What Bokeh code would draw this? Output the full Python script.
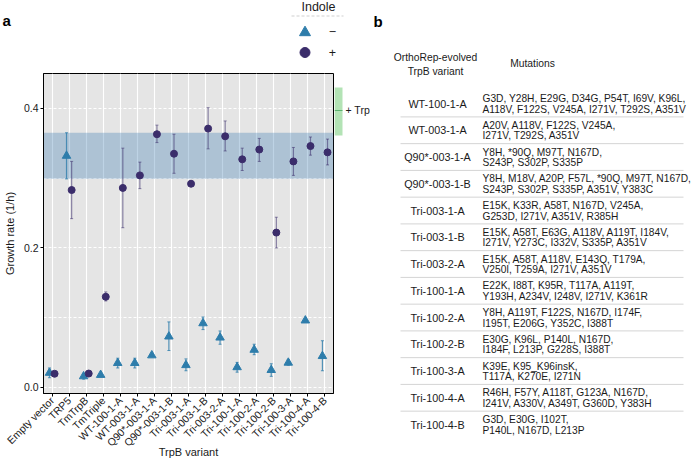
from bokeh.plotting import figure
from bokeh.layouts import row, column
from bokeh.models import Range1d, FactorRange, FixedTicker, ColumnDataSource, BoxAnnotation, NumeralTickFormatter
from bokeh.transform import dodge
from bokeh.core.properties import value
from bokeh.embed import file_html
from bokeh.resources import INLINE

FONT = "Liberation Sans"

# ---------------- data (panel a) ----------------
variants = ["Empty vector", "TRP5", "TmTrpB", "TmTriple", "WT-100-1-A", "WT-003-1-A",
            "Q90*-003-1-A", "Q90*-003-1-B", "Tri-003-1-A", "Tri-003-1-B", "Tri-003-2-A",
            "Tri-100-1-A", "Tri-100-2-A", "Tri-100-2-B", "Tri-100-3-A", "Tri-100-4-A", "Tri-100-4-B"]

minus_mean = [0.021, 0.332, 0.016, 0.018, 0.035, 0.035, 0.046, 0.073, 0.032, 0.092, 0.0715,
              0.029, 0.054, 0.025, 0.0355, 0.096, 0.045]
minus_lo = [0.014, 0.299, 0.012, 0.016, 0.028, 0.028, 0.044, 0.053, 0.024, 0.083, 0.062,
            0.022, 0.047, 0.016, 0.032, 0.094, 0.024]
minus_hi = [0.028, 0.365, 0.020, 0.020, 0.042, 0.042, 0.047, 0.094, 0.041, 0.101, 0.081,
            0.036, 0.062, 0.034, 0.040, 0.098, 0.067]

plus_mean = [0.0197, 0.283, 0.020, 0.130, 0.286, 0.304, 0.363, 0.335, 0.292, 0.371, 0.360,
             0.327, 0.341, 0.222, 0.324, 0.346, 0.337]
plus_lo = [0.018, 0.242, 0.016, 0.124, 0.229, 0.285, 0.351, 0.307, 0.289, 0.342, 0.339,
           0.311, 0.324, 0.200, 0.304, 0.333, 0.319]
plus_hi = [0.022, 0.324, 0.024, 0.137, 0.343, 0.323, 0.376, 0.363, 0.296, 0.401, 0.382,
           0.343, 0.357, 0.244, 0.344, 0.359, 0.356]

trp_mean = 0.397
trp_lo = 0.361
trp_hi = 0.430

y_ticks = [0.0, 0.2, 0.4]
y_grid = [0.0, 0.1, 0.2, 0.3, 0.4]

# ---------------- data (panel b) ----------------
table_variants = ["WT-100-1-A", "WT-003-1-A", "Q90*-003-1-A", "Q90*-003-1-B", "Tri-003-1-A",
                  "Tri-003-1-B", "Tri-003-2-A", "Tri-100-1-A", "Tri-100-2-A", "Tri-100-2-B",
                  "Tri-100-3-A", "Tri-100-4-A", "Tri-100-4-B"]
mut_line1 = ["G3D, Y28H, E29G, D34G, P54T, I69V, K96L,",
             "A20V, A118V, F122S, V245A,",
             "Y8H, *90Q, M97T, N167D,",
             "Y8H, M18V, A20P, F57L, *90Q, M97T, N167D,",
             "E15K, K33R, A58T, N167D, V245A,",
             "E15K, A58T, E63G, A118V, A119T, I184V,",
             "E15K, A58T, A118V, E143Q, T179A,",
             "E22K, I88T, K95R, T117A, A119T,",
             "Y8H, A119T, F122S, N167D, I174F,",
             "E30G, K96L, P140L, N167D,",
             "K39E, K95_K96insK,",
             "R46H, F57Y, A118T, G123A, N167D,",
             "G3D, E30G, I102T,"]
mut_line2 = ["A118V, F122S, V245A, I271V, T292S, A351V",
             "I271V, T292S, A351V",
             "S243P, S302P, S335P",
             "S243P, S302P, S335P, A351V, Y383C",
             "G253D, I271V, A351V, R385H",
             "I271V, Y273C, I332V, S335P, A351V",
             "V250I, T259A, I271V, A351V",
             "Y193H, A234V, I248V, I271V, K361R",
             "I195T, E206G, Y352C, I388T",
             "I184F, L213P, G228S, I388T",
             "T117A, K270E, I271N",
             "I241V, A330V, A349T, G360D, Y383H",
             "P140L, N167D, L213P"]

BLUE = "#2e7dab"
PURPLE = "#3b2d6b"
TXT = "#1a1a1a"

TOP_H = 72
MAIN_H = 389
BOT = 68

# ---------------- panel a: main plot ----------------
src = ColumnDataSource(dict(variant=variants, m=minus_mean, mlo=minus_lo, mhi=minus_hi,
                            p=plus_mean, plo=plus_lo, phi=plus_hi))

main = figure(width=334, height=MAIN_H, x_range=FactorRange(*variants),
              y_range=Range1d(-0.0086, 0.450), output_backend="svg", toolbar_location=None,
              min_border_left=41, min_border_right=1, min_border_top=1, min_border_bottom=BOT)
main.background_fill_color = "#e5e5e5"
main.border_fill_color = "white"
main.outline_line_color = "black"
main.outline_line_width = 1

main.xgrid.grid_line_color = "white"
main.xgrid.grid_line_width = 1.1
main.ygrid[0].ticker = FixedTicker(ticks=y_grid)
main.ygrid.grid_line_color = "white"
main.ygrid.grid_line_width = 1
main.ygrid.grid_line_dash = "3 2"

band = BoxAnnotation(bottom=minus_lo[1], top=minus_hi[1], fill_color="#4682b4", fill_alpha=0.35,
                     line_color=None, level="underlay")
main.add_layout(band)

xm = dodge("variant", -0.15, range=main.x_range)
xp = dodge("variant", 0.15, range=main.x_range)

main.segment(x0=xp, y0="plo", x1=xp, y1="phi", source=src, line_color=PURPLE, line_alpha=0.55, line_width=1.2)
main.scatter(x=xp, y="plo", marker="dash", size=3, source=src, line_color=PURPLE, line_alpha=0.55)
main.scatter(x=xp, y="phi", marker="dash", size=3, source=src, line_color=PURPLE, line_alpha=0.55)
main.segment(x0=xm, y0="mlo", x1=xm, y1="mhi", source=src, line_color=BLUE, line_alpha=0.8, line_width=1.2)
main.scatter(x=xm, y="mlo", marker="dash", size=3, source=src, line_color=BLUE, line_alpha=0.8)
main.scatter(x=xm, y="mhi", marker="dash", size=3, source=src, line_color=BLUE, line_alpha=0.8)
main.scatter(x=xm, y="m", marker="triangle", size=8.5, source=src, fill_color=BLUE, line_color=BLUE)
main.scatter(x=xp, y="p", marker="circle", size=7, source=src, fill_color=PURPLE, line_color=PURPLE)

main.yaxis.ticker = FixedTicker(ticks=y_ticks)
main.yaxis.formatter = NumeralTickFormatter(format="0.0")
main.yaxis.axis_label = "Growth rate (1/h)"
main.xaxis.axis_label = "TrpB variant"
for ax in (main.xaxis, main.yaxis):
    ax.axis_line_color = "black"
    ax.major_tick_line_color = "black"
    ax.major_tick_out = 3
    ax.major_tick_in = 0
    ax.minor_tick_line_color = None
    ax.major_label_text_font = FONT
    ax.major_label_text_font_size = "10.5px"
    ax.major_label_text_color = TXT
    ax.axis_label_text_font = FONT
    ax.axis_label_text_font_size = "11px"
    ax.axis_label_text_font_style = "normal"
    ax.axis_label_text_color = TXT
    ax.major_label_standoff = 2
    ax.axis_label_standoff = 5
main.xaxis.major_label_orientation = 0.785
main.xaxis.axis_label_standoff = -10

# ---------------- panel a: +Trp strip ----------------
strip = figure(width=38, height=MAIN_H, x_range=Range1d(334, 372), y_range=main.y_range,
               output_backend="svg", toolbar_location=None, x_axis_type=None, y_axis_type=None,
               min_border_left=0, min_border_right=0, min_border_top=1, min_border_bottom=BOT)
strip.grid.visible = False
strip.outline_line_color = None
strip.quad(left=[334], right=[342], bottom=[trp_lo], top=[trp_hi], fill_color="#b3e3b5",
           line_color=None)
strip.segment(x0=[334], x1=[342], y0=[trp_mean], y1=[trp_mean], line_color="#5cb270", line_width=1.2)
strip.text(x=[345], y=[trp_mean], text=["+ Trp"], text_font=value(FONT), text_font_size="10.5px",
           text_align="left", text_baseline="middle", text_color=TXT)

# ---------------- panel a: header with legend ----------------
top = figure(width=372, height=TOP_H, x_range=Range1d(0, 372), y_range=Range1d(TOP_H, 0),
             output_backend="svg", toolbar_location=None, x_axis_type=None, y_axis_type=None,
             min_border=0)
top.grid.visible = False
top.outline_line_color = None
top.text(x=[2], y=[20], text=["a"], text_font=value(FONT), text_font_size="15px",
         text_font_style="bold", text_align="left", text_baseline="middle", text_color="black")
top.text(x=[318], y=[6], text=["Indole"], text_font=value(FONT), text_font_size="12.5px",
         text_align="center", text_baseline="middle", text_color=TXT)
top.segment(x0=[291], x1=[343], y0=[15.5], y1=[15.5], line_color="#cfcfcf", line_dash="3 2", line_width=1)
top.scatter(x=[304.5], y=[32], marker="triangle", size=11, fill_color=BLUE, line_color=BLUE)
top.scatter(x=[304.5], y=[52], marker="circle", size=10, fill_color=PURPLE, line_color=PURPLE)
top.text(x=[332, 332], y=[31, 52], text=["\u2212", "+"], text_font=value(FONT), text_font_size="12.5px",
         text_align="center", text_baseline="middle", text_color=TXT)

# ---------------- panel b: table ----------------
TB_H = TOP_H + MAIN_H
tb = figure(width=320, height=TB_H, x_range=Range1d(372, 692), y_range=Range1d(TB_H, 0),
            output_backend="svg", toolbar_location=None, x_axis_type=None, y_axis_type=None,
            min_border=0)
tb.grid.visible = False
tb.outline_line_color = None
tb.text(x=[373], y=[21], text=["b"], text_font=value(FONT), text_font_size="15px",
        text_font_style="bold", text_align="left", text_baseline="middle", text_color="black")
tb.text(x=[435, 435], y=[57, 71], text=["OrthoRep-evolved", "TrpB variant"], text_font=value(FONT),
        text_font_size="10.3px", text_align="center", text_baseline="middle", text_color=TXT)
tb.text(x=[532], y=[63], text=["Mutations"], text_font=value(FONT),
        text_font_size="10.3px", text_align="center", text_baseline="middle", text_color=TXT)

n = len(table_variants)
row_y = [103 + 26.75 * i for i in range(n)]
tb.segment(x0=[400] * (n - 1), x1=[683] * (n - 1), y0=[y + 13.4 for y in row_y[:-1]],
           y1=[y + 13.4 for y in row_y[:-1]], line_color="#d4d4d4", line_width=1)
tb.text(x=[437] * n, y=row_y, text=table_variants, text_font=value(FONT), text_font_size="10.8px",
        text_align="center", text_baseline="middle", text_color=TXT)
tb.text(x=[482] * n, y=[y - 5 for y in row_y], text=mut_line1, text_font=value(FONT),
        text_font_size="10.2px", text_align="left", text_baseline="middle", text_color=TXT)
tb.text(x=[482] * n, y=[y + 5.5 for y in row_y], text=mut_line2, text_font=value(FONT),
        text_font_size="10.2px", text_align="left", text_baseline="middle", text_color=TXT)

layout = row(column(top, row(main, strip)), tb)

open("out.html", "w").write(file_html(layout, INLINE))
